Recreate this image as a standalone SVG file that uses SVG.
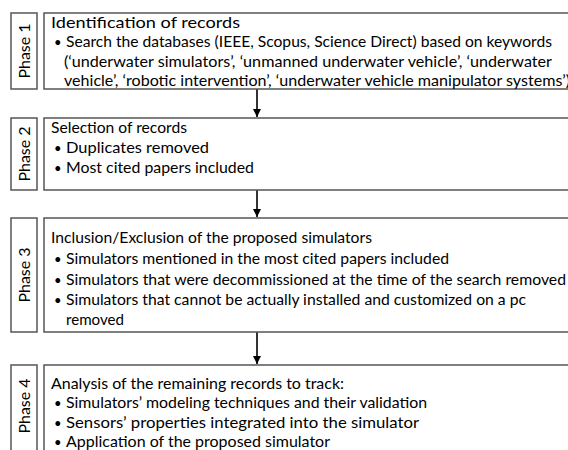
<svg xmlns="http://www.w3.org/2000/svg" width="568" height="450" viewBox="0 0 568 450">
<style>
.box{fill:#fff;stroke:#555;stroke-width:1.5}
.t{font-family:Lato,"Open Sans","Liberation Sans",sans-serif;font-size:16px;fill:#000}
.b{font-family:Lato,"Open Sans","Liberation Sans",sans-serif;font-size:13px;fill:#000}
.ph{font-family:Lato,"Open Sans","Liberation Sans",sans-serif;font-size:16px;fill:#000;text-anchor:middle}
.c{stroke:#000;stroke-width:1.6;fill:none}
</style>
<defs>
<marker id="ah" viewBox="0 0 10 10" refX="10" refY="5" markerWidth="5" markerHeight="5" markerUnits="strokeWidth" orient="auto">
<path d="M0,0 L10,5 L0,10 z" fill="#000"/>
</marker>
</defs>
<rect width="568" height="450" fill="#fff"/>
<g id="connectors">
<line class="c" x1="257" y1="89" x2="257" y2="117" marker-end="url(#ah)"/>
<line class="c" x1="257" y1="190" x2="257" y2="217" marker-end="url(#ah)"/>
<line class="c" x1="257" y1="332" x2="257" y2="364" marker-end="url(#ah)"/>
</g>
<g id="phase1">
<rect class="box" x="11" y="13" width="26" height="76"/>
<text class="ph" transform="translate(29.5,51) rotate(-90)">Phase 1</text>
<rect class="box" x="44" y="13" width="530" height="76"/>
<text class="t" x="51" y="27.5" textLength="189" lengthAdjust="spacingAndGlyphs">Identification of records</text>
<text class="b" x="54" y="47">•</text>
<text class="t" x="66" y="47" textLength="486" lengthAdjust="spacingAndGlyphs">Search the databases (IEEE, Scopus, Science Direct) based on keywords</text>
<text class="t" x="64" y="66.5" textLength="488" lengthAdjust="spacingAndGlyphs">(‘underwater simulators’, ‘unmanned underwater vehicle’, ‘underwater</text>
<text class="t" x="64" y="86" textLength="506" lengthAdjust="spacingAndGlyphs">vehicle’, ‘robotic intervention’, ‘underwater vehicle manipulator systems’)</text>
</g>
<g id="phase2">
<rect class="box" x="11" y="118" width="26" height="72"/>
<text class="ph" transform="translate(29.5,154) rotate(-90)">Phase 2</text>
<rect class="box" x="44" y="118" width="530" height="72"/>
<text class="t" x="51" y="132.5" textLength="136" lengthAdjust="spacingAndGlyphs">Selection of records</text>
<text class="b" x="54" y="153">•</text>
<text class="t" x="66" y="153" textLength="143" lengthAdjust="spacingAndGlyphs">Duplicates removed</text>
<text class="b" x="54" y="173">•</text>
<text class="t" x="66" y="173" textLength="188" lengthAdjust="spacingAndGlyphs">Most cited papers included</text>
</g>
<g id="phase3">
<rect class="box" x="11" y="218" width="26" height="114"/>
<text class="ph" transform="translate(29.5,275) rotate(-90)">Phase 3</text>
<rect class="box" x="44" y="218" width="530" height="114"/>
<text class="t" x="51" y="243" textLength="321" lengthAdjust="spacingAndGlyphs">Inclusion/Exclusion of the proposed simulators</text>
<text class="b" x="54" y="264">•</text>
<text class="t" x="66" y="264" textLength="383" lengthAdjust="spacingAndGlyphs">Simulators mentioned in the most cited papers included</text>
<text class="b" x="54" y="284.5">•</text>
<text class="t" x="66" y="284.5" textLength="500" lengthAdjust="spacingAndGlyphs">Simulators that were decommissioned at the time of the search removed</text>
<text class="b" x="54" y="305">•</text>
<text class="t" x="66" y="305" textLength="460" lengthAdjust="spacingAndGlyphs">Simulators that cannot be actually installed and customized on a pc</text>
<text class="t" x="66" y="325" textLength="58" lengthAdjust="spacingAndGlyphs">removed</text>
</g>
<g id="phase4">
<rect class="box" x="11" y="365" width="26" height="100"/>
<text class="ph" transform="translate(29.5,406) rotate(-90)">Phase 4</text>
<rect class="box" x="44" y="365" width="530" height="100"/>
<text class="t" x="51" y="388.5" textLength="293" lengthAdjust="spacingAndGlyphs">Analysis of the remaining records to track:</text>
<text class="b" x="54" y="408">•</text>
<text class="t" x="66" y="408" textLength="361" lengthAdjust="spacingAndGlyphs">Simulators’ modeling techniques and their validation</text>
<text class="b" x="54" y="427.5">•</text>
<text class="t" x="66" y="427.5" textLength="353" lengthAdjust="spacingAndGlyphs">Sensors’ properties integrated into the simulator</text>
<text class="b" x="54" y="446.5">•</text>
<text class="t" x="66" y="446.5" textLength="264" lengthAdjust="spacingAndGlyphs">Application of the proposed simulator</text>
</g>
</svg>
